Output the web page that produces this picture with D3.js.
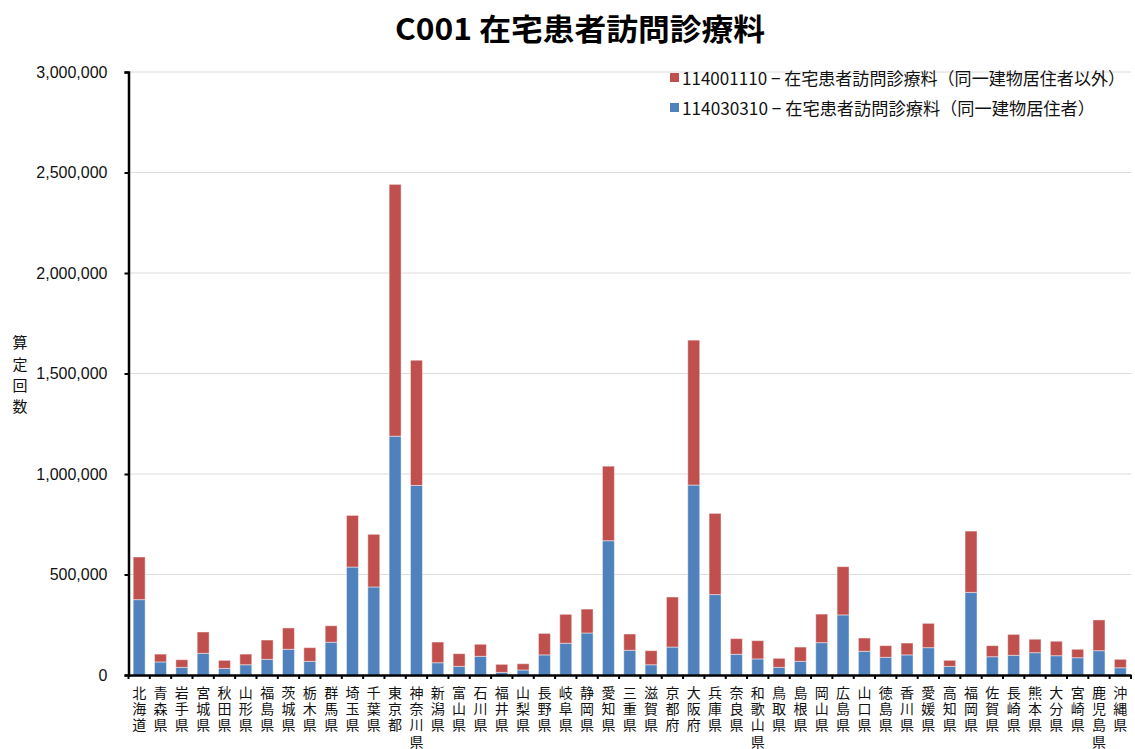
<!DOCTYPE html>
<html><head><meta charset="utf-8">
<script src="https://cdn.jsdelivr.net/npm/d3@7"></script>
<style>
html,body{margin:0;padding:0;background:#fff;}
svg{display:block;}
</style></head>
<body>
<svg id="chart" width="1135" height="749"></svg>
<script>
const title = "C001 在宅患者訪問診療料";
const yAxisTitle = "算定回数";
const categories = ["北海道","青森県","岩手県","宮城県","秋田県","山形県","福島県","茨城県","栃木県","群馬県","埼玉県","千葉県","東京都","神奈川県","新潟県","富山県","石川県","福井県","山梨県","長野県","岐阜県","静岡県","愛知県","三重県","滋賀県","京都府","大阪府","兵庫県","奈良県","和歌山県","鳥取県","島根県","岡山県","広島県","山口県","徳島県","香川県","愛媛県","高知県","福岡県","佐賀県","長崎県","熊本県","大分県","宮崎県","鹿児島県","沖縄県"];
const seriesNames = ["114030310 − 在宅患者訪問診療料（同一建物居住者）","114001110 − 在宅患者訪問診療料（同一建物居住者以外）"];
const sameBuilding = [375000,65000,38000,108000,33000,51000,78000,128000,68000,163000,537000,438000,1188000,943000,61000,43000,93000,13000,25000,100000,158000,209000,668000,123000,51000,139000,945000,400000,103000,80000,38000,68000,161000,299000,118000,88000,100000,136000,43000,411000,91000,98000,111000,96000,86000,121000,36000];
const otherThanSame = [212000,39000,38000,106000,40000,53000,96000,106000,68000,82000,257000,262000,1253000,623000,103000,63000,60000,40000,31000,107000,144000,119000,371000,81000,70000,249000,721000,404000,78000,91000,45000,71000,142000,240000,66000,58000,59000,121000,30000,305000,55000,104000,67000,72000,42000,153000,42000];
const yTicks = [0,500000,1000000,1500000,2000000,2500000,3000000];
const colors = ["#4F81BD","#C0504D"];

(function(){
const svg = d3.select("#chart");
const pL = 128.5, pR = 1131, pT = 72, pB = 675;
const cjk = "'Noto Sans CJK JP', sans-serif";
const latin = "'Liberation Sans', Arial, sans-serif";

const x = d3.scaleBand().domain(categories).range([pL, pR]).paddingInner(0.44).paddingOuter(0.22);
const y = d3.scaleLinear().domain([0, 3000000]).range([pB, pT]);

// gridlines
svg.append("g").selectAll("line").data(yTicks.filter(d => d > 0)).join("line")
  .attr("x1", pL).attr("x2", pR).attr("y1", d => y(d)).attr("y2", d => y(d))
  .attr("stroke", "#dcdcdc").attr("stroke-width", 1);

// stacked bars
const rows = categories.map((c, i) => ({cat: c, s0: sameBuilding[i], s1: otherThanSame[i]}));
const stacked = d3.stack().keys(["s0","s1"])(rows);
svg.append("g").selectAll("g").data(stacked).join("g")
  .attr("fill", (d, i) => colors[i])
  .selectAll("rect").data(d => d).join("rect")
  .attr("x", d => x(d.data.cat))
  .attr("width", x.bandwidth())
  .attr("y", d => y(d[1]))
  .attr("height", d => y(d[0]) - y(d[1]))
  .attr("stroke", "rgba(255,255,255,0.45)").attr("stroke-width", 1);

// y axis
const yAxis = svg.append("g").attr("transform", `translate(${pL},0)`)
  .call(d3.axisLeft(y).tickValues(yTicks).tickSize(4).tickPadding(17).tickFormat(d3.format(",")));
yAxis.select(".domain").attr("stroke", "#000").attr("stroke-width", 2.5);
yAxis.selectAll(".tick line").attr("stroke", "#000").attr("stroke-width", 2);
yAxis.selectAll(".tick text").attr("font-family", latin).attr("font-size", 16).attr("fill", "#111");

// x axis
const xAxis = svg.append("g").attr("transform", `translate(0,${pB})`)
  .call(d3.axisBottom(x).tickSize(0).tickFormat(""));
xAxis.select(".domain").attr("stroke", "#000").attr("stroke-width", 2.5);
// boundary ticks
svg.append("g").selectAll("line").data(d3.range(categories.length + 1)).join("line")
  .attr("x1", i => pL + i * (pR - pL) / categories.length)
  .attr("x2", i => pL + i * (pR - pL) / categories.length)
  .attr("y1", pB).attr("y2", pB + 4)
  .attr("stroke", "#000").attr("stroke-width", 2);

// vertical category labels: one glyph per text, stacked top to bottom
const chars = [];
categories.forEach(c => Array.from(c).forEach((ch, k) => chars.push({cat: c, ch, k})));
svg.append("g").selectAll("text").data(chars).join("text")
  .attr("x", d => x(d.cat) + x.bandwidth() / 2)
  .attr("y", d => 685.5 + d.k * 16.3)
  .attr("writing-mode", "vertical-rl")
  .attr("text-anchor", "start")
  .attr("font-family", cjk).attr("font-size", 14).attr("fill", "#111")
  .text(d => d.ch);

// y-axis title (vertical, stacked)
svg.append("g").selectAll("text").data(Array.from(yAxisTitle)).join("text")
  .attr("x", 20).attr("y", (d, k) => 335 + k * 21.4)
  .attr("writing-mode", "vertical-rl")
  .attr("text-anchor", "start")
  .attr("font-family", cjk).attr("font-size", 15).attr("fill", "#111")
  .text(d => d);

// title
svg.append("text").attr("x", 580).attr("y", 27).attr("text-anchor", "middle")
  .attr("dominant-baseline", "central")
  .attr("font-family", cjk).attr("font-weight", 700).attr("font-size", 30).attr("fill", "#000")
  .attr("textLength", 370).attr("lengthAdjust", "spacingAndGlyphs")
  .text(title);

// legend (reverse order: red first)
const legend = [
  {name: seriesNames[1], color: colors[1], y: 77.5, w: 443},
  {name: seriesNames[0], color: colors[0], y: 107.5, w: 413}
];
const lg = svg.append("g").selectAll("g").data(legend).join("g");
lg.append("rect").attr("x", 670).attr("y", d => d.y - 4.5).attr("width", 9).attr("height", 9).attr("fill", d => d.color);
lg.append("text").attr("x", 682).attr("y", d => d.y).attr("dominant-baseline", "central")
  .attr("font-family", cjk).attr("font-size", 17).attr("fill", "#111")
  .attr("textLength", d => d.w).attr("lengthAdjust", "spacingAndGlyphs")
  .text(d => d.name);
})();
</script>
</body></html>
